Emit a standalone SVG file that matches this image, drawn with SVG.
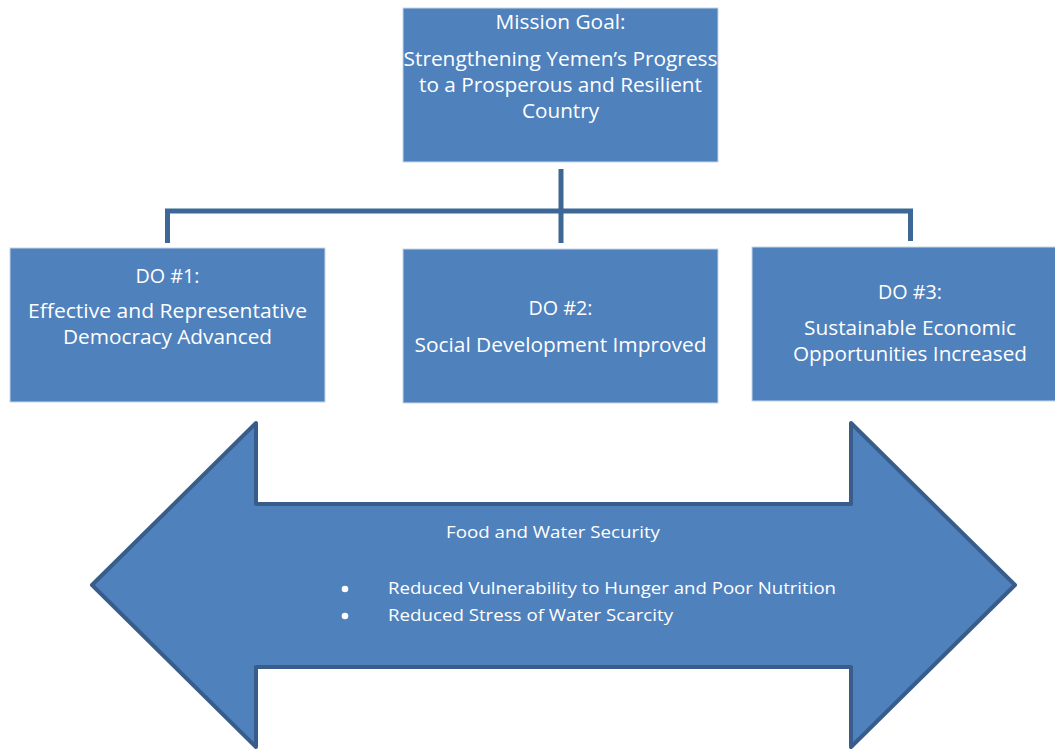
<svg xmlns="http://www.w3.org/2000/svg" width="1055" height="750" viewBox="0 0 1055 750">
<style>
.box{fill:#4F81BD;stroke:#C6D5E8;stroke-width:1}
.t{font-family:"Open Sans","Liberation Sans",sans-serif;font-size:19.5px;fill:#fff;text-anchor:middle}
.s{font-family:"Open Sans","Liberation Sans",sans-serif;font-size:16.5px;fill:#fff}
.c{fill:none;stroke:#3D6797;stroke-width:5}
</style>
<rect width="1055" height="750" fill="#fff"/>
<g id="connectors">
<line class="c" x1="561" y1="169" x2="561" y2="243"/>
<path class="c" d="M167.5 243 V211 H910.5 V241"/>
</g>
<g id="mission">
<rect class="box" x="403" y="8" width="315" height="154"/>
<text class="t" x="560.5" y="29" textLength="130" lengthAdjust="spacingAndGlyphs">Mission Goal:</text>
<text class="t" x="560.5" y="66" textLength="314" lengthAdjust="spacingAndGlyphs">Strengthening Yemen’s Progress</text>
<text class="t" x="560.5" y="92" textLength="283" lengthAdjust="spacingAndGlyphs">to a Prosperous and Resilient</text>
<text class="t" x="560.5" y="118" textLength="77" lengthAdjust="spacingAndGlyphs">Country</text>
</g>
<g id="do1">
<rect class="box" x="10" y="248" width="315" height="154"/>
<text class="t" x="167.5" y="283" textLength="64" lengthAdjust="spacingAndGlyphs">DO #1:</text>
<text class="t" x="167.5" y="318" textLength="279" lengthAdjust="spacingAndGlyphs">Effective and Representative</text>
<text class="t" x="167.5" y="344" textLength="209" lengthAdjust="spacingAndGlyphs">Democracy Advanced</text>
</g>
<g id="do2">
<rect class="box" x="403" y="249" width="315" height="154"/>
<text class="t" x="560.5" y="315" textLength="64" lengthAdjust="spacingAndGlyphs">DO #2:</text>
<text class="t" x="560.5" y="352" textLength="292" lengthAdjust="spacingAndGlyphs">Social Development Improved</text>
</g>
<g id="do3">
<rect class="box" x="752" y="247" width="305" height="154"/>
<text class="t" x="910" y="299" textLength="64" lengthAdjust="spacingAndGlyphs">DO #3:</text>
<text class="t" x="910" y="335" textLength="212" lengthAdjust="spacingAndGlyphs">Sustainable Economic</text>
<text class="t" x="910" y="361" textLength="234" lengthAdjust="spacingAndGlyphs">Opportunities Increased</text>
</g>
<g id="arrow">
<path d="M92 585 L256 423 V504 H851 V423 L1015 585 L851 747 V667 H256 V747 Z" fill="#4F81BD" stroke="#385D8A" stroke-width="4" stroke-linejoin="round"/>
<text class="s" x="553" y="538" text-anchor="middle" textLength="214" lengthAdjust="spacingAndGlyphs">Food and Water Security</text>
<circle cx="345" cy="589" r="3.3" fill="#fff"/>
<circle cx="345" cy="616" r="3.3" fill="#fff"/>
<text class="s" x="388" y="594" textLength="448" lengthAdjust="spacingAndGlyphs">Reduced Vulnerability to Hunger and Poor Nutrition</text>
<text class="s" x="388" y="621" textLength="285" lengthAdjust="spacingAndGlyphs">Reduced Stress of Water Scarcity</text>
</g>
</svg>
